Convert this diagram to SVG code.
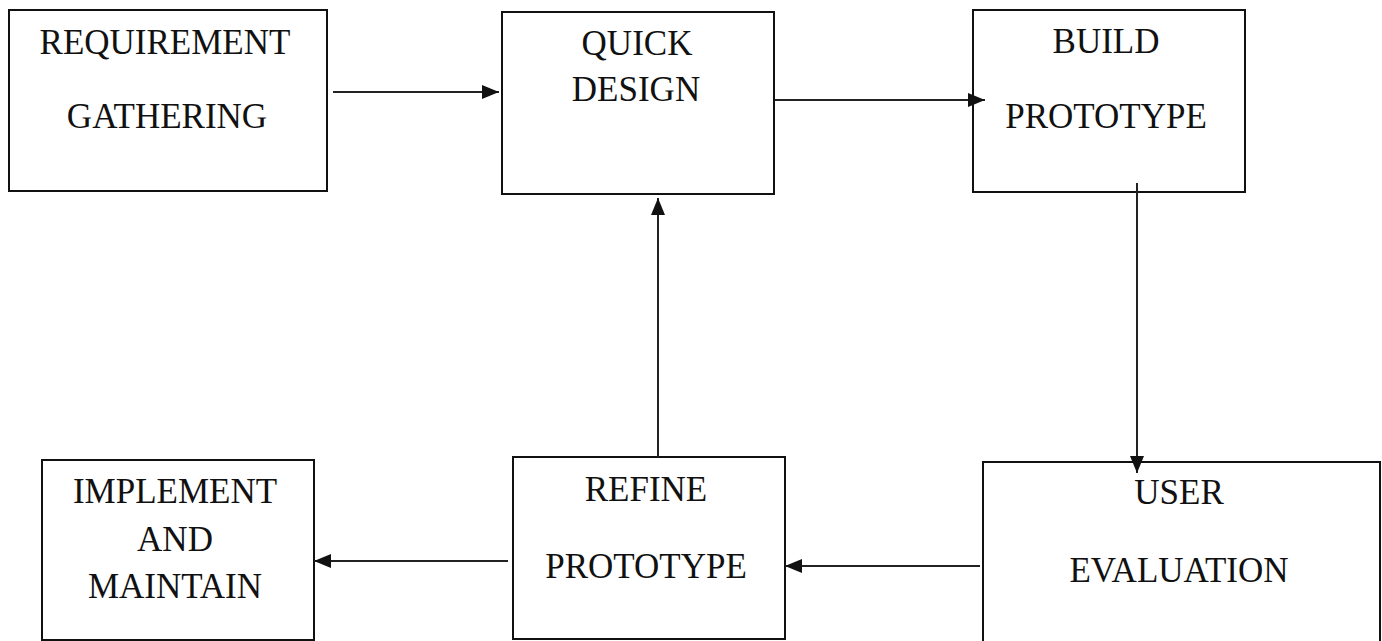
<svg xmlns="http://www.w3.org/2000/svg" width="1382" height="641" viewBox="0 0 1382 641">
<style>
.box{fill:#fff;stroke:#111;stroke-width:2}
.lbl{font-family:"Liberation Serif","Times New Roman",serif;font-size:35px;fill:#111;text-anchor:middle}
.conn{stroke:#222;stroke-width:2;fill:none}
</style>
<defs>
<marker id="ah" markerUnits="userSpaceOnUse" markerWidth="18" markerHeight="16" refX="17" refY="7" orient="auto">
<path d="M0,0 L17,7 L0,14 Z" fill="#111"/>
</marker>
</defs>
<rect width="1382" height="641" fill="#fff"/>
<g id="n1">
<rect class="box" x="9" y="10" width="318" height="181"/>
<text class="lbl" x="165" y="54">REQUIREMENT</text>
<text class="lbl" x="167" y="128">GATHERING</text>
</g>
<g id="n2">
<rect class="box" x="502" y="12" width="272" height="182"/>
<text class="lbl" x="637" y="55">QUICK</text>
<text class="lbl" x="636" y="101">DESIGN</text>
</g>
<g id="n3">
<rect class="box" x="973" y="10" width="272" height="182"/>
<text class="lbl" x="1106" y="53">BUILD</text>
<text class="lbl" x="1106" y="128">PROTOTYPE</text>
</g>
<g id="n4">
<rect class="box" x="42" y="460" width="272" height="180"/>
<text class="lbl" x="175" y="503">IMPLEMENT</text>
<text class="lbl" x="175" y="551">AND</text>
<text class="lbl" x="175" y="598">MAINTAIN</text>
</g>
<g id="n5">
<rect class="box" x="513" y="457" width="272" height="182"/>
<text class="lbl" x="646" y="501">REFINE</text>
<text class="lbl" x="646" y="578">PROTOTYPE</text>
</g>
<g id="n6">
<rect class="box" x="983" y="462" width="397" height="190"/>
<text class="lbl" x="1179" y="504">USER</text>
<text class="lbl" x="1179" y="582">EVALUATION</text>
</g>
<g id="connectors">
<line class="conn" x1="333" y1="92" x2="499" y2="92" marker-end="url(#ah)"/>
<line class="conn" x1="775" y1="100" x2="985" y2="100" marker-end="url(#ah)"/>
<line class="conn" x1="1137" y1="183" x2="1137" y2="473" marker-end="url(#ah)"/>
<line class="conn" x1="980" y1="566" x2="785" y2="566" marker-end="url(#ah)"/>
<line class="conn" x1="658" y1="457" x2="658" y2="198" marker-end="url(#ah)"/>
<line class="conn" x1="508" y1="561" x2="314" y2="561" marker-end="url(#ah)"/>
</g>
</svg>
